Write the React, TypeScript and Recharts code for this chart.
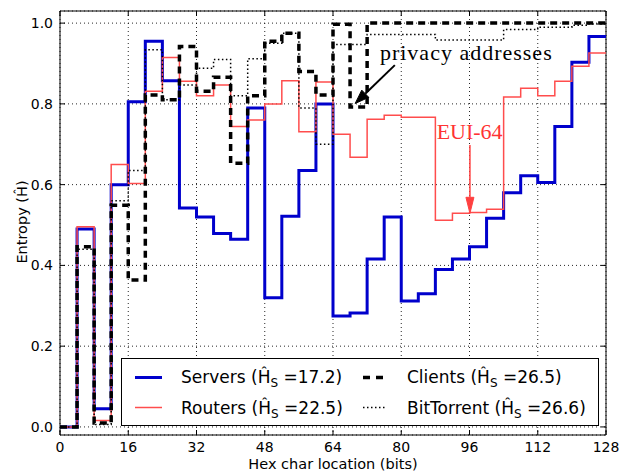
import React from 'react';
import {
  LineChart, Line, XAxis, YAxis, CartesianGrid,
  ReferenceLine, ReferenceDot, ReferenceArea, Legend
} from 'recharts';

// start bit of each hex char (32 nybbles)
const bitStarts = [0, 4, 8, 12, 16, 20, 24, 28, 32, 36, 40, 44, 48, 52, 56, 60,
  64, 68, 72, 76, 80, 84, 88, 92, 96, 100, 104, 108, 112, 116, 120, 124];

const servers = [0, 0.49, 0.045, 0.6, 0.805, 0.955, 0.857, 0.542, 0.52, 0.479, 0.465, 0.79,
  0.32, 0.522, 0.635, 0.8, 0.275, 0.282, 0.416, 0.52, 0.312, 0.33, 0.39, 0.416,
  0.446, 0.517, 0.58, 0.622, 0.605, 0.744, 0.903, 0.967];

const routers = [0, 0.496, 0.016, 0.65, 0.603, 0.831, 0.915, 0.856, 0.82, 0.847, 0.744, 0.76,
  0.8, 0.857, 0.731, 0.854, 0.725, 0.668, 0.762, 0.772, 0.767, 0.767, 0.512, 0.529,
  0.531, 0.539, 0.817, 0.839, 0.82, 0.856, 0.893, 0.926];

const clients = [0, 0.446, 0.01, 0.549, 0.364, 0.822, 0.81, 0.942, 0.831, 0.866, 0.653, 0.82,
  0.955, 0.975, 0.88, 0.822, 0.997, 0.792, 1.0, 1.0, 1.0, 1.0, 1.0, 1.0,
  1.0, 1.0, 1.0, 1.0, 1.0, 1.0, 1.0, 1.0];

const bittorrent = [0, 0.44, 0.006, 0.56, 0.635, 0.934, 0.81, 0.847, 0.888, 0.91, 0.82, 0.912,
  0.95, 0.975, 0.79, 0.7, 0.947, 0.947, 0.972, 0.972, 0.972, 0.972, 0.958, 0.958,
  0.958, 0.958, 0.984, 0.984, 0.99, 0.99, 0.995, 0.998];

const xTicks = [0, 16, 32, 48, 64, 80, 96, 112, 128];
const yTicks = [0, 0.2, 0.4, 0.6, 0.8, 1.0];

const legendLabels = [
  { name: 'Servers', h: '17.2' },
  { name: 'Routers', h: '22.5' },
  { name: 'Clients', h: '26.5' },
  { name: 'BitTorrent', h: '26.6' },
];

// annotations in data coordinates
const privacyText = { x: 75, y: 0.909 };
const privacyArrow = [{ x: 78.5, y: 0.896 }, { x: 69.2, y: 0.801 }];
const euiText = { x: 88.3, y: 0.712 };
const euiArrow = [{ x: 96.1, y: 0.698 }, { x: 96.1, y: 0.529 }];

const rows = bitStarts.map((b, i) => ({
  bit: b,
  servers: servers[i],
  routers: routers[i],
  clients: clients[i],
  bittorrent: bittorrent[i],
}));
rows.push({
  bit: 128,
  servers: servers[31],
  routers: routers[31],
  clients: clients[31],
  bittorrent: bittorrent[31],
});

const W = 631;
const H = 473;
const PLOT_TOP = 11;
const PLOT_RIGHT = 606;
const FONT = '"DejaVu Sans", sans-serif';
const SERIF = '"Liberation Serif", "Times New Roman", serif';

const XTick = (p: any) => {
  const { x, y, payload } = p;
  return (
    <g>
      <line x1={x} x2={x} y1={y} y2={y - 5} stroke="#000" />
      <line x1={x} x2={x} y1={PLOT_TOP} y2={PLOT_TOP + 5} stroke="#000" />
      <text x={x} y={y + 17} textAnchor="middle" fontSize={14} fontFamily={FONT} fill="#000">
        {payload.value}
      </text>
    </g>
  );
};

const YTick = (p: any) => {
  const { x, y, payload } = p;
  return (
    <g>
      <line x1={x} x2={x + 5} y1={y} y2={y} stroke="#000" />
      <line x1={PLOT_RIGHT} x2={PLOT_RIGHT - 5} y1={y} y2={y} stroke="#000" />
      <text x={x - 7} y={y + 5} textAnchor="end" fontSize={14} fontFamily={FONT} fill="#000">
        {Number(payload.value).toFixed(1)}
      </text>
    </g>
  );
};

const arrowShape = (color: string, width: number, headLen: number, headHalf: number) => (p: any) => {
  const { x1, y1, x2, y2 } = p;
  const dx = x2 - x1;
  const dy = y2 - y1;
  const len = Math.sqrt(dx * dx + dy * dy);
  const ux = dx / len;
  const uy = dy / len;
  const bx = x2 - ux * headLen;
  const by = y2 - uy * headLen;
  const pts = `${x2},${y2} ${bx - uy * headHalf},${by + ux * headHalf} ${bx + uy * headHalf},${by - ux * headHalf}`;
  return (
    <g>
      <line x1={x1} y1={y1} x2={bx} y2={by} stroke={color} strokeWidth={width} />
      <polygon points={pts} fill={color} stroke={color} strokeWidth={1} />
    </g>
  );
};

const LegendSample = ({ kind, x, y }: { kind: number; x: number; y: number }) => {
  if (kind === 0) return <line x1={x} x2={x + 27} y1={y} y2={y} stroke="#0000cc" strokeWidth={3} />;
  if (kind === 1) return <line x1={x} x2={x + 27} y1={y} y2={y} stroke="#ff4d4d" strokeWidth={1.5} />;
  if (kind === 2) return <line x1={x} x2={x + 22} y1={y} y2={y} stroke="#000" strokeWidth={3.5} strokeDasharray="7 6" />;
  return <line x1={x} x2={x + 22} y1={y} y2={y} stroke="#000" strokeWidth={1.5} strokeDasharray="1.5 2.5" />;
};

const LegendBox = () => {
  const cols = [
    { sx: 14, tx: 60 },
    { sx: 242, tx: 286 },
  ];
  const rowsY = [{ ly: 19.5, by: 25 }, { ly: 49.5, by: 56 }];
  return (
    <svg width={478} height={69} style={{ display: 'block' }}>
      <rect x={0.5} y={0.5} width={477} height={67} fill="#fff" stroke="#000" />
      {legendLabels.map((l, i) => {
        const c = cols[Math.floor(i / 2)];
        const r = rowsY[i % 2];
        return (
          <g key={l.name}>
            <LegendSample kind={i} x={c.sx} y={r.ly} />
            <text x={c.tx} y={r.by} fontSize={17} fontFamily={FONT} fill="#000">
              {l.name} (Ĥ
              <tspan fontSize={12} dy={4}>S</tspan>
              <tspan dy={-4}> ={l.h})</tspan>
            </text>
          </g>
        );
      })}
    </svg>
  );
};

export default function App() {
  return (
    <div style={{ position: 'absolute', left: 0, top: 0, width: W, height: H, background: '#fff' }}>
      <LineChart width={W} height={H} data={rows} margin={{ top: PLOT_TOP, right: W - PLOT_RIGHT, bottom: 0, left: 0 }}>
        <CartesianGrid stroke="#000" strokeDasharray="1 3" strokeOpacity={0.85} />
        <XAxis
          dataKey="bit"
          type="number"
          domain={[0, 128]}
          ticks={xTicks}
          height={38}
          axisLine={false}
          tickLine={false}
          tickSize={0}
          tickMargin={0}
          tick={XTick}
          allowDataOverflow
          label={{
            content: () => (
              <text x={333} y={469} textAnchor="middle" fontSize={14.5} fontFamily={FONT} fill="#000">
                Hex char location (bits)
              </text>
            ),
          }}
        />
        <YAxis
          type="number"
          domain={[-0.02, 1.03]}
          ticks={yTicks}
          width={60}
          axisLine={false}
          tickLine={false}
          tickSize={0}
          tickMargin={0}
          tick={YTick}
          allowDataOverflow
          label={{
            content: () => (
              <text x={27} y={222} transform="rotate(-90 27 222)" textAnchor="middle" fontSize={14.5} fontFamily={FONT} fill="#000">
                Entropy (Ĥ)
              </text>
            ),
          }}
        />
        <Line type="stepAfter" dataKey="servers" name="Servers" stroke="#0000cc" strokeWidth={3} dot={false} isAnimationActive={false} />
        <Line type="stepAfter" dataKey="routers" name="Routers" stroke="#ff4d4d" strokeWidth={1.5} dot={false} isAnimationActive={false} />
        <Line type="stepAfter" dataKey="clients" name="Clients" stroke="#000" strokeWidth={3.5} strokeDasharray="7 5" dot={false} isAnimationActive={false} />
        <Line type="stepAfter" dataKey="bittorrent" name="BitTorrent" stroke="#000" strokeWidth={1.5} strokeDasharray="1.5 2.5" dot={false} isAnimationActive={false} />
        <ReferenceArea x1={0} x2={128} y1={-0.02} y2={1.03} fill="none" stroke="#000" strokeWidth={1} ifOverflow="visible" />
        <ReferenceLine segment={privacyArrow} ifOverflow="visible" shape={arrowShape('#000', 2, 14, 5)} />
        <ReferenceLine segment={euiArrow} ifOverflow="visible" shape={arrowShape('#ff4040', 1.5, 16, 4)} />
        <ReferenceDot
          x={privacyText.x}
          y={privacyText.y}
          ifOverflow="visible"
          shape={(p: any) => (
            <text x={p.cx} y={p.cy} fontSize={22} letterSpacing={1} fontFamily={SERIF} fill="#000">
              privacy addresses
            </text>
          )}
        />
        <ReferenceDot
          x={euiText.x}
          y={euiText.y}
          ifOverflow="visible"
          shape={(p: any) => (
            <text x={p.cx} y={p.cy} fontSize={22} fontFamily={SERIF} fill="#ff3333">
              EUI-64
            </text>
          )}
        />
        <Legend
          layout="horizontal"
          verticalAlign="middle"
          align="center"
          wrapperStyle={{ left: 121, top: 358, width: 478, height: 69 }}
          content={() => <LegendBox />}
        />
      </LineChart>
    </div>
  );
}
